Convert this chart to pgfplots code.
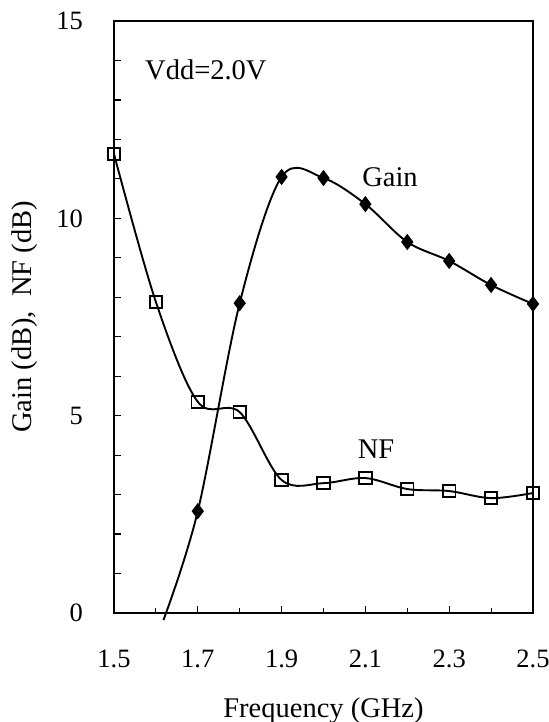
\documentclass[border=0pt]{standalone}
\usepackage{fontspec}
\setmainfont{Liberation Serif}
\usepackage{pgfplots}
\pgfplotsset{compat=1.18}
\begin{document}
\begin{tikzpicture}[font=\fontsize{28.5bp}{34bp}\selectfont]
\useasboundingbox (-114bp,-109bp) rectangle (435bp,613bp);
\begin{axis}[
  at={(0,0)}, anchor=south west,
  scale only axis, width=419bp, height=592bp,
  xmin=1.5, xmax=2.5, ymin=0, ymax=15,
  clip=false,
  axis line style={line width=2bp},
  xtick={1.5,1.7,1.9,2.1,2.3,2.5},
  minor xtick={1.6,1.8,2.0,2.2,2.4},
  ytick={0,1,...,15},
  yticklabels={0,,,,,5,,,,,10,,,,,15},
  xtick pos=left, ytick pos=left,
  tick align=inside,
  major tick length=7bp, minor tick length=5bp,
  tick style={line width=1.2bp, black},
  /pgf/number format/assume math mode=true,
  /pgf/number format/fixed,
  /pgf/number format/precision=1,
  ticklabel style={font=\fontsize{26.5bp}{32bp}\selectfont},
  xticklabel style={anchor=base, inner sep=0pt, yshift=-54bp},
  yticklabel style={anchor=east, inner sep=0pt, xshift=-31bp},
]
% Gain curve (line)
\addplot[black, line width=1.9bp, smooth, tension=0.55, mark=none] coordinates {
  (1.618,-0.18) (1.7,2.58) (1.8,7.85) (1.9,11.05) (2.0,11.02) (2.1,10.36)
  (2.2,9.40) (2.3,8.92) (2.4,8.31) (2.5,7.83)
};
% Gain markers
\addplot[only marks, mark=diamond*, mark size=7.5bp, mark options={fill=black, draw=black, line width=0.8bp}] coordinates {
  (1.7,2.58) (1.8,7.85) (1.9,11.05) (2.0,11.02) (2.1,10.36)
  (2.2,9.40) (2.3,8.92) (2.4,8.31) (2.5,7.83)
};
% NF
\addplot[black, line width=1.9bp, smooth, tension=0.55, mark=square, mark size=6.2bp, mark options={line width=1.8bp, solid}] coordinates {
  (1.5,11.63) (1.6,7.88) (1.7,5.35) (1.8,5.09) (1.9,3.37) (2.0,3.29)
  (2.1,3.42) (2.2,3.14) (2.3,3.09) (2.4,2.91) (2.5,3.04)
};
\node[anchor=base] at (axis cs:2.1587,10.794) {Gain};
\node[anchor=base] at (axis cs:2.1253,3.902) {NF};
\node[anchor=base west, inner sep=0pt] at (axis cs:1.574,13.53) {Vdd=2.0V};
\node[anchor=base, inner sep=0pt] at (axis description cs:0.5,-0.1757) {Frequency (GHz)};
\node[anchor=center, rotate=90, inner sep=0pt] at (axis description cs:-0.2124,0.5) {Gain (dB),\ \ NF (dB)};
\end{axis}
\end{tikzpicture}
\end{document}
